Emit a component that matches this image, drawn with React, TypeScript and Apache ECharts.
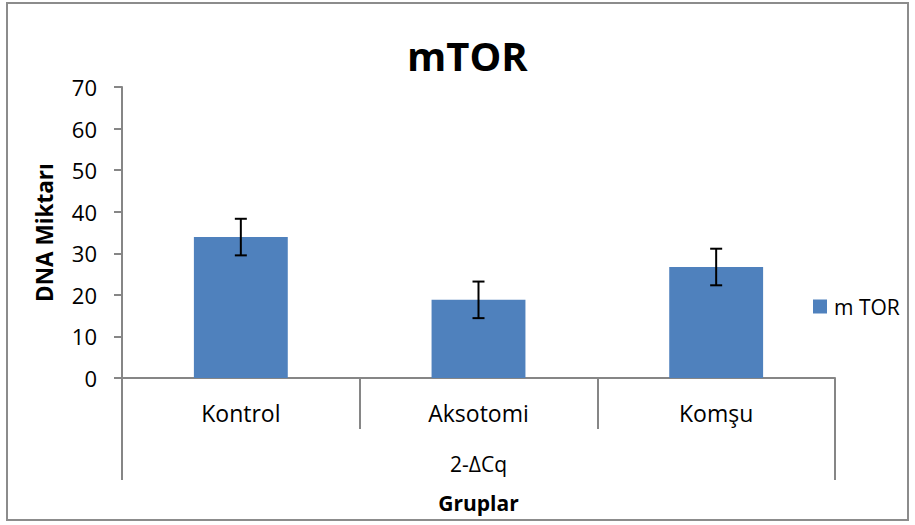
import React, { useEffect, useRef } from "react";
import * as echarts from "echarts";

const categories = ["Kontrol", "Aksotomi", "Komşu"];
const groupLabel = ["2-ΔCq"];
const values = [33.9, 18.8, 26.7];
const errors = [4.4, 4.4, 4.4];
const seriesName = "m TOR";
const yTicks = { min: 0, max: 70, interval: 10 };

const FONT = "'Open Sans', 'Noto Sans', sans-serif";
const AXIS_COLOR = "#868686";

export default function App() {
  const ref = useRef<HTMLDivElement>(null);
  useEffect(() => {
    if (!ref.current) return;
    const chart = echarts.init(ref.current, null, { renderer: "svg" });
    chart.setOption({
      animation: false,
      backgroundColor: "#ffffff",
      textStyle: { fontFamily: FONT },
      title: {
        text: "mTOR",
        left: 402,
        top: 30,
        textStyle: { fontFamily: FONT, fontSize: 40, fontWeight: "bold", color: "#000" },
      },
      graphic: [
        {
          type: "rect",
          shape: { x: 7, y: 3, width: 901, height: 517 },
          style: { fill: "none", stroke: "#8c8c8c", lineWidth: 2 },
          silent: true,
        },
      ],
      legend: {
        data: [seriesName],
        orient: "vertical",
        left: 808,
        top: 291,
        icon: "rect",
        itemWidth: 14,
        itemHeight: 14,
        textStyle: { fontFamily: FONT, fontSize: 21, color: "#000", padding: [0, 0, 0, 2] },
      },
      grid: { left: 122, right: 80, top: 87, bottom: 147, containLabel: false },
      xAxis: [
        {
          type: "category",
          data: categories,
          position: "bottom",
          axisLine: { show: true, lineStyle: { color: AXIS_COLOR, width: 2 } },
          axisTick: { show: true, alignWithLabel: false, interval: 0, length: 51, lineStyle: { color: AXIS_COLOR, width: 2 } },
          axisLabel: { margin: 23, fontFamily: FONT, fontSize: 23, color: "#000", lineHeight: 23, interval: 0 },
          splitLine: { show: false },
        },
        {
          type: "category",
          data: groupLabel,
          position: "bottom",
          axisLine: { show: false },
          axisTick: { show: true, alignWithLabel: false, interval: 0, length: 102, lineStyle: { color: AXIS_COLOR, width: 2 } },
          axisLabel: { margin: 75, fontFamily: FONT, fontSize: 21, color: "#000", lineHeight: 21 },
          name: "Gruplar",
          nameLocation: "middle",
          nameGap: 114,
          nameTextStyle: { fontFamily: FONT, fontSize: 21, fontWeight: "bold", color: "#000", lineHeight: 21 },
          splitLine: { show: false },
        },
      ],
      yAxis: {
        type: "value",
        min: yTicks.min,
        max: yTicks.max,
        interval: yTicks.interval,
        axisLine: { show: true, lineStyle: { color: AXIS_COLOR, width: 2 } },
        axisTick: { show: true, inside: false, length: 8, lineStyle: { color: AXIS_COLOR, width: 2 } },
        axisLabel: { margin: 25, fontFamily: FONT, fontSize: 22, color: "#000" },
        splitLine: { show: false },
        name: "DNA Miktarı",
        nameLocation: "middle",
        nameRotate: 90,
        nameGap: 66,
        nameTextStyle: { fontFamily: FONT, fontSize: 22.5, fontWeight: "bold", color: "#000" },
      },
      series: [
        {
          name: seriesName,
          type: "bar",
          data: values,
          barWidth: "39.5%",
          itemStyle: { color: "#4F81BD" },
          xAxisIndex: 0,
        },
        {
          name: "error",
          type: "custom",
          xAxisIndex: 0,
          z: 10,
          data: categories.map((_, i) => [i, values[i], errors[i]]),
          renderItem: (params: any, api: any) => {
            const x = api.value(0);
            const v = api.value(1);
            const e = api.value(2);
            const top = api.coord([x, v + e]);
            const bot = api.coord([x, v - e]);
            const half = 6;
            const style = { stroke: "#000", lineWidth: 2 };
            return {
              type: "group",
              children: [
                { type: "line", shape: { x1: top[0], y1: top[1], x2: bot[0], y2: bot[1] }, style },
                { type: "line", shape: { x1: top[0] - half, y1: top[1], x2: top[0] + half, y2: top[1] }, style },
                { type: "line", shape: { x1: bot[0] - half, y1: bot[1], x2: bot[0] + half, y2: bot[1] }, style },
              ],
            };
          },
        },
      ],
    });
    return () => chart.dispose();
  }, []);
  return (
    <div
      ref={ref}
      style={{ position: "absolute", left: 0, top: 0, width: 915, height: 525 }}
    />
  );
}
